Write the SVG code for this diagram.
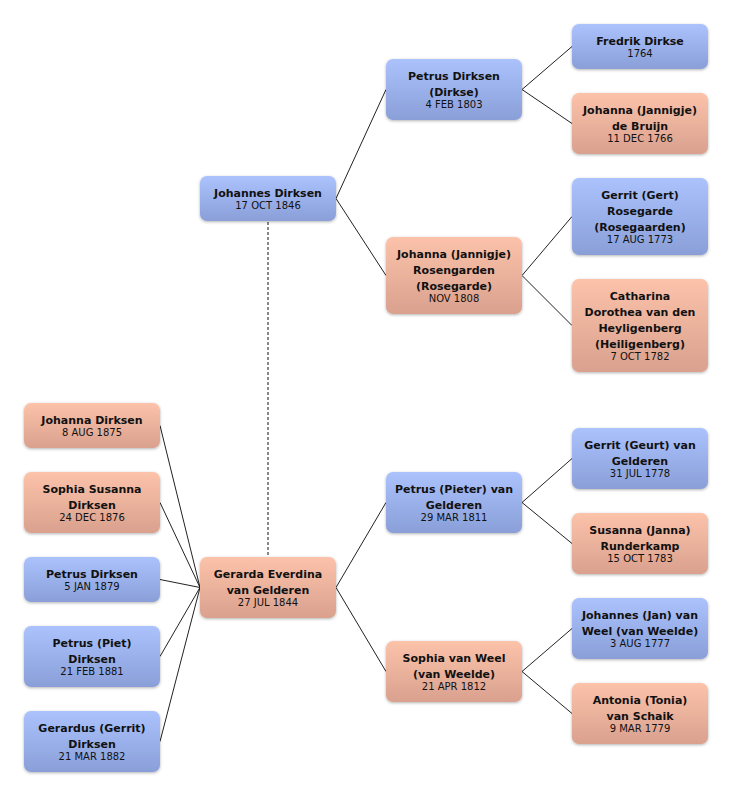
<svg xmlns="http://www.w3.org/2000/svg" width="732" height="796" viewBox="0 0 732 796">
<defs>
<linearGradient id="gb" x1="0" y1="0" x2="0" y2="1">
<stop offset="0" stop-color="#abc2fd"/>
<stop offset="1" stop-color="#8a9fd8"/>
</linearGradient>
<linearGradient id="gp" x1="0" y1="0" x2="0" y2="1">
<stop offset="0" stop-color="#fcc2aa"/>
<stop offset="1" stop-color="#d9a18e"/>
</linearGradient>
<filter id="sh" x="-10%" y="-20%" width="120%" height="150%">
<feDropShadow dx="0" dy="1" stdDeviation="1.5" flood-color="#000" flood-opacity="0.3"/>
</filter>
</defs>
<style>
.b rect{fill:url(#gb);filter:url(#sh)}
.p rect{fill:url(#gp);filter:url(#sh)}
text{font-family:"DejaVu Sans","Liberation Sans",sans-serif;fill:#111;text-anchor:middle}
.n{font-size:11px;font-weight:bold}
.d{font-size:10px}
#connectors line{stroke:#222;stroke-width:1}
#connectors .dash{stroke:#888;stroke-width:2;stroke-dasharray:3 2}
</style>
<rect width="732" height="796" fill="#fff"/>
<g id="connectors">
<line class="dash" x1="268" y1="222" x2="268" y2="557"/>
<line x1="336" y1="198.5" x2="386" y2="89.5"/>
<line x1="336" y1="198.5" x2="386" y2="275.5"/>
<line x1="336" y1="587.5" x2="386" y2="502.5"/>
<line x1="336" y1="587.5" x2="386" y2="671.5"/>
<line x1="522" y1="89.5" x2="572" y2="46.5"/>
<line x1="522" y1="89.5" x2="572" y2="123.5"/>
<line x1="522" y1="275.5" x2="572" y2="216.5"/>
<line x1="522" y1="275.5" x2="572" y2="325.5"/>
<line x1="522" y1="502.5" x2="572" y2="458.5"/>
<line x1="522" y1="502.5" x2="572" y2="543.5"/>
<line x1="522" y1="671.5" x2="572" y2="628.5"/>
<line x1="522" y1="671.5" x2="572" y2="713.5"/>
<line x1="160" y1="425.5" x2="200" y2="587.5"/>
<line x1="160" y1="502.5" x2="200" y2="587.5"/>
<line x1="160" y1="579.5" x2="200" y2="587.5"/>
<line x1="160" y1="656.5" x2="200" y2="587.5"/>
<line x1="160" y1="741.5" x2="200" y2="587.5"/>
</g>
<g id="johanna-dirksen" class="p"><rect x="24" y="403" width="136" height="45" rx="7"/><text class="n" x="92" y="423.5">Johanna Dirksen</text><text class="d" x="92" y="436">8 AUG 1875</text></g>
<g id="sophia-susanna" class="p"><rect x="24" y="472" width="136" height="61" rx="7"/><text class="n" x="92" y="492.5">Sophia Susanna</text><text class="n" x="92" y="508.5">Dirksen</text><text class="d" x="92" y="521">24 DEC 1876</text></g>
<g id="petrus-dirksen-1879" class="b"><rect x="24" y="557" width="136" height="45" rx="7"/><text class="n" x="92" y="577.5">Petrus Dirksen</text><text class="d" x="92" y="590">5 JAN 1879</text></g>
<g id="petrus-piet" class="b"><rect x="24" y="626" width="136" height="61" rx="7"/><text class="n" x="92" y="646.5">Petrus (Piet)</text><text class="n" x="92" y="662.5">Dirksen</text><text class="d" x="92" y="675">21 FEB 1881</text></g>
<g id="gerardus" class="b"><rect x="24" y="711" width="136" height="61" rx="7"/><text class="n" x="92" y="731.5">Gerardus (Gerrit)</text><text class="n" x="92" y="747.5">Dirksen</text><text class="d" x="92" y="760">21 MAR 1882</text></g>
<g id="johannes-dirksen" class="b"><rect x="200" y="176" width="136" height="45" rx="7"/><text class="n" x="268" y="196.5">Johannes Dirksen</text><text class="d" x="268" y="209">17 OCT 1846</text></g>
<g id="gerarda" class="p"><rect x="200" y="557" width="136" height="61" rx="7"/><text class="n" x="268" y="577.5">Gerarda Everdina</text><text class="n" x="268" y="593.5">van Gelderen</text><text class="d" x="268" y="606">27 JUL 1844</text></g>
<g id="petrus-dirkse" class="b"><rect x="386" y="59" width="136" height="61" rx="7"/><text class="n" x="454" y="79.5">Petrus Dirksen</text><text class="n" x="454" y="95.5">(Dirkse)</text><text class="d" x="454" y="108">4 FEB 1803</text></g>
<g id="johanna-rosengarden" class="p"><rect x="386" y="237" width="136" height="77" rx="7"/><text class="n" x="454" y="257.5">Johanna (Jannigje)</text><text class="n" x="454" y="273.5">Rosengarden</text><text class="n" x="454" y="289.5">(Rosegarde)</text><text class="d" x="454" y="302">NOV 1808</text></g>
<g id="petrus-pieter" class="b"><rect x="386" y="472" width="136" height="61" rx="7"/><text class="n" x="454" y="492.5">Petrus (Pieter) van</text><text class="n" x="454" y="508.5">Gelderen</text><text class="d" x="454" y="521">29 MAR 1811</text></g>
<g id="sophia-van-weel" class="p"><rect x="386" y="641" width="136" height="61" rx="7"/><text class="n" x="454" y="661.5">Sophia van Weel</text><text class="n" x="454" y="677.5">(van Weelde)</text><text class="d" x="454" y="690">21 APR 1812</text></g>
<g id="fredrik" class="b"><rect x="572" y="24" width="136" height="45" rx="7"/><text class="n" x="640" y="44.5">Fredrik Dirkse</text><text class="d" x="640" y="57">1764</text></g>
<g id="johanna-de-bruijn" class="p"><rect x="572" y="93" width="136" height="61" rx="7"/><text class="n" x="640" y="113.5">Johanna (Jannigje)</text><text class="n" x="640" y="129.5">de Bruijn</text><text class="d" x="640" y="142">11 DEC 1766</text></g>
<g id="gerrit-gert" class="b"><rect x="572" y="178" width="136" height="77" rx="7"/><text class="n" x="640" y="198.5">Gerrit (Gert)</text><text class="n" x="640" y="214.5">Rosegarde</text><text class="n" x="640" y="230.5">(Rosegaarden)</text><text class="d" x="640" y="243">17 AUG 1773</text></g>
<g id="catharina" class="p"><rect x="572" y="279" width="136" height="93" rx="7"/><text class="n" x="640" y="299.5">Catharina</text><text class="n" x="640" y="315.5">Dorothea van den</text><text class="n" x="640" y="331.5">Heyligenberg</text><text class="n" x="640" y="347.5">(Heiligenberg)</text><text class="d" x="640" y="360">7 OCT 1782</text></g>
<g id="gerrit-geurt" class="b"><rect x="572" y="428" width="136" height="61" rx="7"/><text class="n" x="640" y="448.5">Gerrit (Geurt) van</text><text class="n" x="640" y="464.5">Gelderen</text><text class="d" x="640" y="477">31 JUL 1778</text></g>
<g id="susanna" class="p"><rect x="572" y="513" width="136" height="61" rx="7"/><text class="n" x="640" y="533.5">Susanna (Janna)</text><text class="n" x="640" y="549.5">Runderkamp</text><text class="d" x="640" y="562">15 OCT 1783</text></g>
<g id="johannes-jan" class="b"><rect x="572" y="598" width="136" height="61" rx="7"/><text class="n" x="640" y="618.5">Johannes (Jan) van</text><text class="n" x="640" y="634.5">Weel (van Weelde)</text><text class="d" x="640" y="647">3 AUG 1777</text></g>
<g id="antonia" class="p"><rect x="572" y="683" width="136" height="61" rx="7"/><text class="n" x="640" y="703.5">Antonia (Tonia)</text><text class="n" x="640" y="719.5">van Schaik</text><text class="d" x="640" y="732">9 MAR 1779</text></g>
</svg>
